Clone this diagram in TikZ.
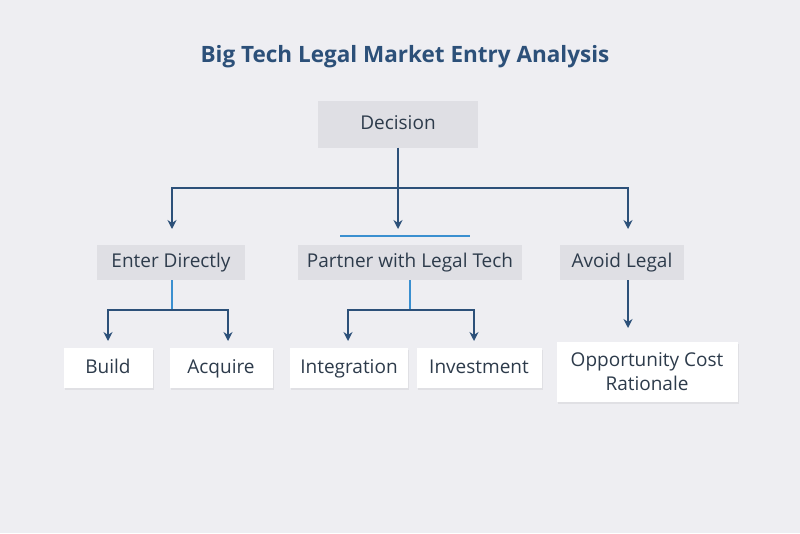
\documentclass[tikz,border=0pt]{standalone}
\usepackage{fontspec}
\setmainfont{Open Sans}
\usetikzlibrary{arrows.meta,shadows}
\definecolor{bg}{HTML}{EEEEF2}
\definecolor{dk}{HTML}{2C5079}
\definecolor{lb}{HTML}{3A8FD0}
\definecolor{tx}{HTML}{2D3B4B}
\definecolor{gbox}{HTML}{DFDFE4}
\begin{document}
\begin{tikzpicture}[x=1pt,y=-1pt,
  gray/.style={fill=gbox,text=tx,font=\fontsize{19}{22}\selectfont,inner sep=0pt,text height=14pt,text depth=4pt},
  leaf/.style={fill=white,text=tx,font=\fontsize{19}{24}\selectfont,inner sep=0pt,align=center,
    drop shadow={shadow xshift=1pt,shadow yshift=-1.5pt,opacity=0.12}},
  one/.style={text height=14pt,text depth=4pt},
  arr/.style={draw=dk,line width=1.8pt,-{Stealth[length=9pt,width=9pt]}},
  ln/.style={draw=dk,line width=1.8pt},
  lln/.style={draw=lb,line width=1.8pt}]
\fill[bg] (0,0) rectangle (800,533);
\useasboundingbox (0,0) rectangle (800,533);
\node[text=dk,font=\bfseries\fontsize{22.5}{26}\selectfont] (title) at (405,57) {Big Tech Legal Market Entry Analysis};
\node[gray,minimum width=160pt,minimum height=47pt] (dec) at (398,124) {Decision};
\node[gray,minimum width=148pt,minimum height=35pt] (ent) at (171,262) {Enter Directly};
\node[gray,minimum width=224pt,minimum height=35pt] (par) at (410,262) {Partner with Legal Tech};
\node[gray,minimum width=124pt,minimum height=35pt] (avo) at (622,262) {Avoid Legal};
\node[leaf,one,minimum width=89pt,minimum height=40pt] (bui) at (108,368) {Build};
\node[leaf,one,minimum width=103pt,minimum height=40pt] (acq) at (221,368) {Acquire};
\node[leaf,one,minimum width=118pt,minimum height=40pt] (int) at (349,368) {Integration};
\node[leaf,one,minimum width=125pt,minimum height=40pt] (inv) at (479,368) {Investment};
\node[leaf,minimum width=181pt,minimum height=60pt] (opp) at (647,372) {Opportunity Cost\\Rationale};
% top tree
\coordinate (j1) at (398,188);
\draw[ln] (dec.south) -- (j1);
\draw[arr] (j1) -| (172,229);
\draw[arr] (j1) -| (628,229);
\draw[arr] (j1) -- (398,229);
\coordinate (m1) at (340,236); \coordinate (m2) at (470,236);
\draw[lln] (m1) -- (m2);
% enter
\coordinate (e1) at (172,310);
\draw[lln] (172,280) -- (e1);
\draw[arr] (e1) -| (108,341);
\draw[arr] (e1) -| (228,341);
% partner
\coordinate (p1) at (410,310);
\draw[lln] (410,280) -- (p1);
\draw[arr] (p1) -| (348,341);
\draw[arr] (p1) -| (474,341);
% avoid
\draw[arr] (628,280) -- (628,328);
\end{tikzpicture}
\end{document}
